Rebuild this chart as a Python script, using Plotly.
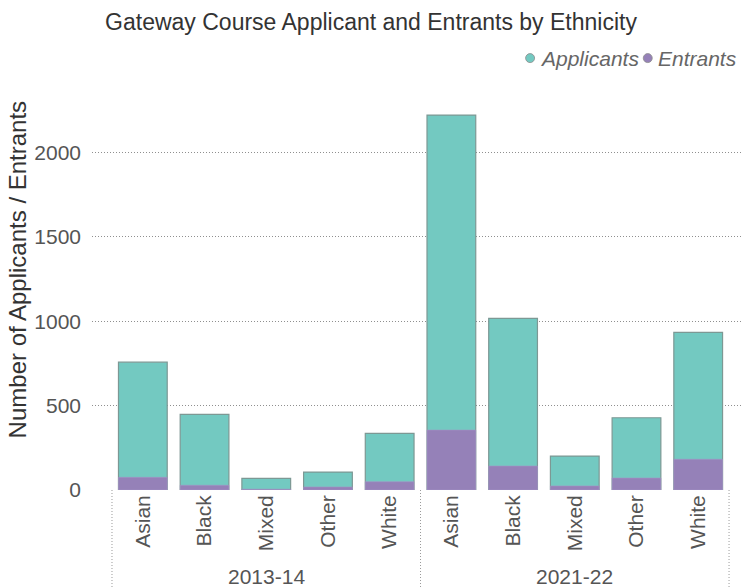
import plotly.graph_objects as go

# Academic years and ethnic groups
years = ["2013-14", "2021-22"]
ethnicities = ["Asian", "Black", "Mixed", "Other", "White"]

# Counts per year, in ethnicity order
applicants_2013 = [757, 448, 69, 106, 335]
applicants_2021 = [2221, 1017, 201, 428, 934]
entrants_2013 = [75, 28, 5, 18, 49]
entrants_2021 = [355, 142, 24, 71, 182]

applicants = applicants_2013 + applicants_2021
entrants = entrants_2013 + entrants_2021
tick_labels = ethnicities * len(years)
positions = list(range(len(tick_labels)))

TEAL = "#73c9c1"
PURPLE = "#9581b8"
FONT = "Liberation Sans"
DOTS = "1px,2px"

fig = go.Figure()
fig.add_trace(go.Bar(
    x=positions, y=applicants, name="Applicants", showlegend=False,
    marker=dict(color=TEAL, line=dict(color="#7d9894", width=1.2)),
))
fig.add_trace(go.Bar(
    x=positions, y=entrants, name="Entrants", showlegend=False,
    marker=dict(color=PURPLE, line=dict(color="#a594c6", width=0.6)),
))

# Compact legend: small round swatch followed by italic series name
legend_items = [("Applicants", TEAL, 0.674), ("Entrants", PURPLE, 0.855)]
for name, color, lx in legend_items:
    fig.add_shape(type="circle", xref="paper", yref="paper",
                  xsizemode="pixel", ysizemode="pixel",
                  xanchor=lx, yanchor=1.099, x0=-4.5, x1=4.5, y0=-4.5, y1=4.5,
                  fillcolor=color, line=dict(color="#8c8c8c", width=0.8))
    fig.add_annotation(x=lx + 0.0125, y=1.099, xref="paper", yref="paper",
                       text=f"<i>{name}</i>", showarrow=False,
                       xanchor="left", yanchor="middle",
                       font=dict(family=FONT, size=21, color="#666666"))

# Vertical axis title
fig.add_annotation(x=-0.115, y=0.562, xref="paper", yref="paper",
                   text="Number of Applicants / Entrants", textangle=-90,
                   showarrow=False, xanchor="center", yanchor="middle",
                   font=dict(family=FONT, size=24, color="#333333"))

n = len(ethnicities)
# Dotted group separators below the axis and year labels
for g, year in enumerate(years):
    start = g * n - 0.5
    fig.add_shape(type="line", xref="x", yref="paper",
                  x0=start, x1=start, y0=0, y1=-0.26,
                  line=dict(color="#9a9a9a", width=1, dash=DOTS))
    fig.add_annotation(x=g * n + (n - 1) / 2, y=-0.221, xref="x", yref="paper",
                       text=year, showarrow=False, yanchor="middle",
                       font=dict(family=FONT, size=21, color="#555555"))
end = len(positions) - 0.5
fig.add_shape(type="line", xref="x", yref="paper",
              x0=end, x1=end, y0=0, y1=-0.26,
              line=dict(color="#9a9a9a", width=1, dash=DOTS))

fig.update_layout(
    width=742, height=587,
    margin=dict(l=92, r=0, t=97, b=97),
    plot_bgcolor="white", paper_bgcolor="white",
    barmode="overlay", bargap=0.21,
    showlegend=False,
    title=dict(text="Gateway Course Applicant and Entrants by Ethnicity",
               x=0.5, xanchor="center", y=0.962, yanchor="middle",
               font=dict(family=FONT, size=23, color="#333333")),
    font=dict(family=FONT, color="#555555"),
)
fig.update_xaxes(
    range=[-0.824, 9.71], tickvals=positions, ticktext=tick_labels,
    tickangle=-90, showgrid=False, zeroline=False, showline=False, ticks="",
    tickfont=dict(family=FONT, size=21, color="#555555"),
)
fig.update_yaxes(
    range=[0, 2328], tickvals=[0, 500, 1000, 1500, 2000],
    showgrid=True, gridcolor="#8f8f8f", griddash=DOTS, gridwidth=1,
    zeroline=False, showline=False, ticks="", ticklabelstandoff=10,
    tickfont=dict(family=FONT, size=21, color="#555555"),
)

fig.write_html("out.html")
